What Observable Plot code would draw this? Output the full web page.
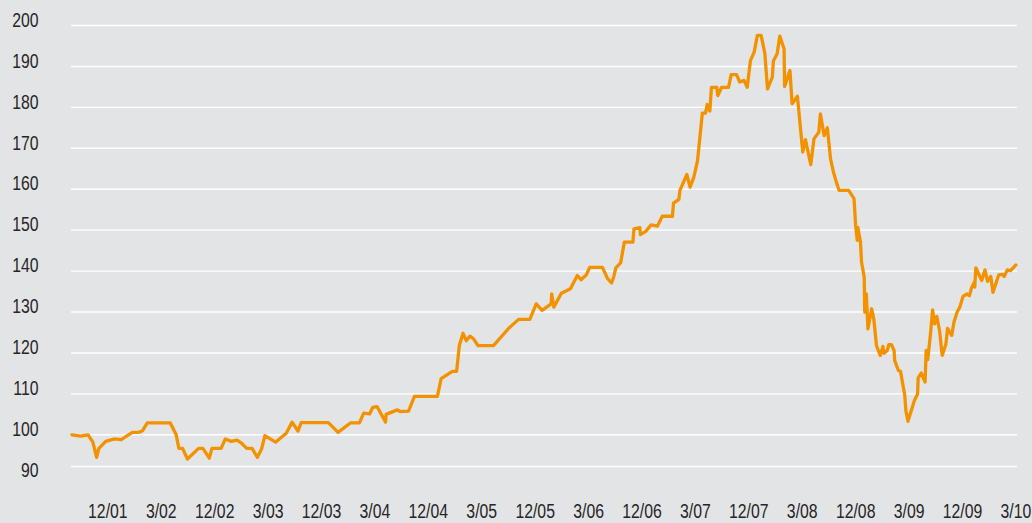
<!DOCTYPE html>
<html>
<head>
<meta charset="utf-8">
<script src="https://cdn.jsdelivr.net/npm/d3@7"></script>
<script src="https://cdn.jsdelivr.net/npm/@observablehq/plot@0.6"></script>
<style>
  html, body { margin: 0; padding: 0; background: #e3e4e6; }
  #chart svg { display: block; }
</style>
</head>
<body>
<div id="chart"></div>
<script>
// Position along the category axis (0 = "12/01", 1 = "3/02", ... 17 = "3/10")
const t = [
  -0.67,-0.51,-0.37,-0.28,-0.21,-0.17,-0.04,0.13,0.25,0.46,0.58,0.65,0.74,1.17,1.28,1.33,1.40,1.49,1.70,1.78,
  1.90,1.95,2.12,2.20,2.31,2.42,2.50,2.60,2.70,2.80,2.88,2.94,3.14,3.34,3.45,3.56,3.62,4.13,4.31,4.54,
  4.71,4.79,4.90,4.96,5.04,5.20,5.21,5.42,5.47,5.63,5.74,6.17,6.24,6.45,6.53,6.58,6.65,6.71,6.78,6.85,
  6.93,7.22,7.51,7.69,7.90,8.02,8.13,8.30,8.31,8.35,8.49,8.66,8.79,8.86,8.96,9.02,9.26,9.35,9.43,9.47,
  9.51,9.60,9.67,9.83,9.85,9.96,9.97,10.07,10.17,10.29,10.38,10.57,10.59,10.69,10.71,10.84,10.90,10.97,11.04,11.13,
  11.19,11.22,11.27,11.30,11.40,11.42,11.49,11.62,11.67,11.77,11.83,11.91,11.97,12.03,12.10,12.16,12.23,12.30,12.35,12.44,
  12.46,12.53,12.58,12.66,12.67,12.77,12.81,12.91,13.01,13.06,13.16,13.22,13.31,13.34,13.41,13.47,13.53,13.58,13.63,13.69,
  13.87,13.97,14.00,14.03,14.04,14.09,14.11,14.16,14.17,14.20,14.23,14.30,14.34,14.39,14.46,14.51,14.53,14.59,14.62,14.67,
  14.72,14.73,14.80,14.84,14.92,14.94,14.98,15.10,15.16,15.17,15.23,15.30,15.32,15.35,15.40,15.44,15.48,15.52,15.57,15.62,
  15.69,15.72,15.80,15.84,15.90,15.95,16.01,16.08,16.13,16.17,16.22,16.23,16.25,16.36,16.42,16.47,16.53,16.57,16.68,16.75,
  16.78,16.84,16.90,17.00
];
const value = [
  100.0,99.7,100.0,98.2,94.5,96.6,98.4,99.0,98.8,100.6,100.6,101.0,102.9,102.9,100.0,96.7,96.7,94.1,96.7,96.7,
  94.3,96.7,96.7,99.0,98.4,98.7,98.0,96.7,96.7,94.5,96.6,99.8,98.2,100.4,103.1,100.9,103.0,103.0,100.6,102.9,
  102.9,105.3,105.1,106.7,106.9,103.1,105.0,106.1,105.7,105.8,109.4,109.4,113.7,115.5,115.5,121.8,124.8,123.0,124.1,123.4,
  121.8,121.8,126.1,128.2,128.2,132.0,130.4,132.0,134.4,131.2,134.6,135.7,138.9,137.9,139.1,140.9,140.9,138.3,137.1,138.5,
  140.8,142.0,147.1,147.1,150.3,150.6,148.9,149.7,151.3,151.0,153.4,153.4,156.6,157.5,159.7,163.6,160.5,162.9,167.0,178.6,
  178.6,180.7,179.1,184.9,184.9,182.9,184.9,184.9,188.0,188.0,186.2,186.6,184.9,191.4,193.5,197.6,197.6,193.2,184.5,187.4,
  191.3,193.1,197.4,194.3,185.1,189.0,180.9,182.7,169.1,172.1,166.0,172.3,173.9,178.4,173.1,175.0,167.4,164.4,162.1,159.7,
  159.7,157.7,151.1,147.5,150.7,147.1,142.2,138.5,130.0,134.4,125.9,130.8,128.3,121.8,119.4,121.6,119.9,120.6,122.0,122.0,
  120.6,118.2,115.7,115.5,109.6,105.9,103.3,108.4,110.0,113.9,115.1,112.9,120.6,118.4,124.5,130.5,127.1,128.9,125.5,119.4,
  122.2,126.0,124.3,127.5,130.0,131.2,133.8,134.4,134.0,135.9,137.3,136.1,140.8,137.7,140.3,137.5,138.7,134.8,139.1,139.2,
  138.7,140.3,140.1,141.5
];
const xLabels = ["12/01","3/02","12/02","3/03","12/03","3/04","12/04","3/05","12/05","3/06","12/06","3/07","12/07","3/08","12/08","3/09","12/09","3/10"];
const yTicks = [90,100,110,120,130,140,150,160,170,180,190,200];
const gridValues = [100,110,120,130,140,150,160,170,180,190,200];
const yMin = 92.26;

const data = t.map((d, i) => ({t: d, v: value[i]}));
const xTickData = xLabels.map((label, i) => ({pos: i, label}));

const font = "'Liberation Sans', Arial, sans-serif";

const chart = Plot.plot({
  width: 1032,
  height: 523,
  marginLeft: 71,
  marginRight: 15,
  marginTop: 25,
  marginBottom: 57,
  style: {background: "#e3e4e6", fontFamily: font, fontSize: "19.5px", overflow: "visible"},
  x: {domain: [-0.68, 17.03], axis: null},
  y: {domain: [yMin, 200], axis: null},
  marks: [
    Plot.ruleY(gridValues, {stroke: "#ffffff", strokeWidth: 1.4}),
    Plot.ruleY([yMin], {stroke: "#ffffff", strokeWidth: 1.4}),
    Plot.text(yTicks, {y: d => d, text: d => String(d), frameAnchor: "left", textAnchor: "end", dx: -33, dy: -5, fill: "#262626", fontSize: 19.5, className: "narrow"}),
    Plot.text(xTickData, {x: "pos", text: "label", frameAnchor: "bottom", dy: 51, fill: "#262626", fontSize: 19.5, className: "narrow"}),
    Plot.line(data, {x: "t", y: "v", stroke: "#f39200", strokeWidth: 3.3, strokeLinejoin: "round", strokeLinecap: "round"})
  ]
});
document.getElementById("chart").appendChild(chart);

// Condense label glyphs horizontally to mimic the narrow typeface of the reference
chart.querySelectorAll("g.narrow text").forEach(el => {
  const len = el.getComputedTextLength();
  el.setAttribute("textLength", (len * 0.81).toFixed(2));
  el.setAttribute("lengthAdjust", "spacingAndGlyphs");
});
</script>
</body>
</html>
